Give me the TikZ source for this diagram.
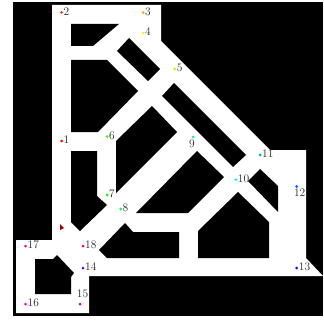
\PassOptionsToPackage{rgb}{xcolor}
\documentclass[tikz,border=0pt]{standalone}
\tikzset{
    wall/.style={fill=black},
    free/.style={fill=white},
    ptlabel/.style={inner sep=0pt,font=\fontsize{11.5}{13}\selectfont,text=black!85},
    labright/.style={right=2pt,yshift=1pt},
    labnine/.style={below=3pt,xshift=-1pt},
    labtwelve/.style={below=2.5pt,xshift=3pt},
    labfifteen/.style={above=6pt,xshift=2.5pt},
}
\begin{document}
\begin{tikzpicture}[x=1pt,y=-1pt]
    \useasboundingbox (0,0) rectangle (323,323);
    \fill[wall] (13,2) rectangle (323,316);
    % free space
    \fill[free] (52,5)--(161,5)--(161,41)--(270,150)--(306,150)--(306,258)--(323,276)--(89,276)--(89,313)--(16,313)--(16,240)--(52,240)--cycle;
    % obstacles
    \fill[wall] (71,24)--(119,24)--(93,46)--(71,46)--cycle;
    \fill[wall] (129,38)--(160,69)--(148,81)--(117,51)--cycle;
    \fill[wall] (71,60)--(107,60)--(138,91)--(98,132)--(71,132)--cycle;
    \fill[wall] (174,83)--(246,155)--(233,167)--(162,96)--cycle;
    \fill[wall] (116,141)--(152,106)--(177,132)--(116,193)--cycle;
    \fill[wall] (71,151)--(97,151)--(97,196)--(107,205)--(80,231)--(71,222)--cycle;
    \fill[wall] (125,223)--(133,232)--(179,232)--(179,258)--(107,258)--(99,250)--cycle;
    \fill[wall] (197,151)--(224,177)--(188,213)--(136,213)--cycle;
    \fill[wall] (238,192)--(269,222)--(269,258)--(198,258)--(198,231)--cycle;
    \fill[wall] (260,169)--(278,186)--(278,212)--(248,181)--cycle;
    \fill[wall] (35,259)--(53,259)--(57,255)--(74,273)--(71,277)--(71,294)--(35,294)--cycle;
    % robot
    \fill[red!60!black] (60,224)--(64,228)--(60,230)--cycle;
    % waypoints
    \foreach \n/\px/\py/\hue/\side in {
        1/61.5/141/0/labright, 2/61.5/12.5/.04/labright, 3/143/12.5/.11/labright, 4/143/33/.16/labright,
        5/174.7/69/.22/labright, 6/107/136.5/.3/labright, 7/107/195/.33/labright, 8/120.5/209/.39/labright,
        9/193/137/.44/labnine, 10/235.7/179.7/.5/labright, 11/260/155/.56/labright, 12/296.7/186.5/.61/labtwelve,
        13/296.7/268/.66/labright, 14/83/268/.72/labright, 15/80/304/.78/labfifteen, 16/25.5/304/.83/labright,
        17/25.5/246/.89/labright, 18/83/246/.95/labright}{
        \definecolor{ptcolor}{hsb}{\hue,1,1}
        \fill[ptcolor] (\px,\py) coordinate(p\n) circle (1.5);
        \node[ptlabel,\side] (l\n) at (p\n) {\n};
    }
\end{tikzpicture}
\end{document}
